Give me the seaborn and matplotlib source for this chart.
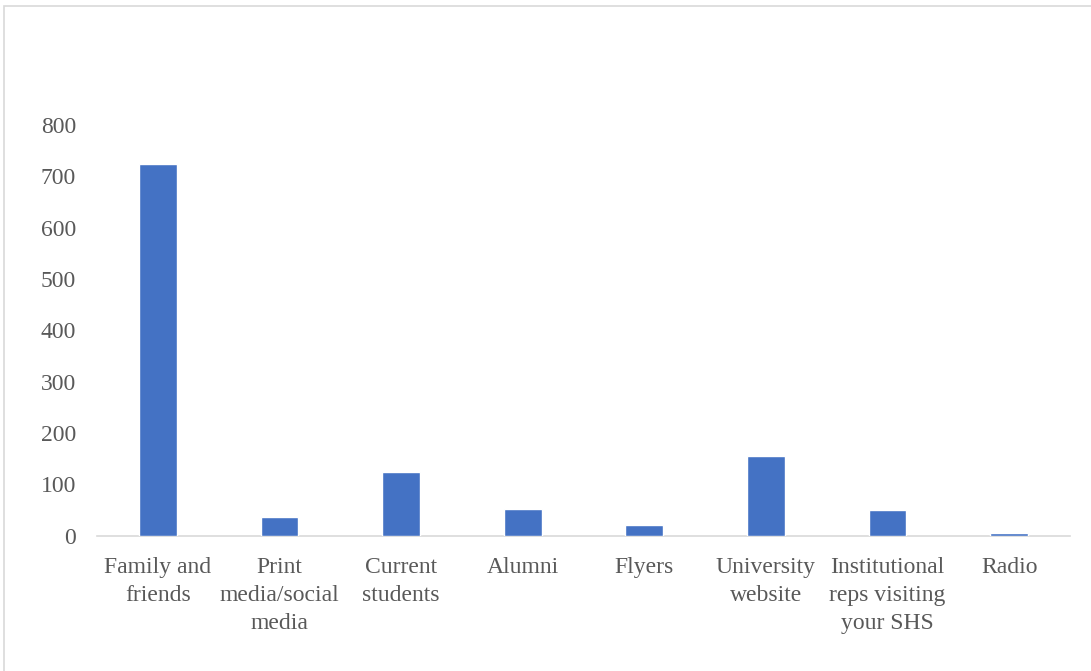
import matplotlib
matplotlib.use("Agg")
import pandas as pd
import numpy as np
import matplotlib.pyplot as plt
import seaborn as sns
from matplotlib.patches import Rectangle

# data
categories = ["Family and\nfriends", "Print\nmedia/social\nmedia", "Current\nstudents",
              "Alumni", "Flyers", "University\nwebsite",
              "Institutional\nreps visiting\nyour SHS", "Radio"]
counts = [724, 37, 124, 52, 21, 155, 50, 5]
y_ticks = [0, 100, 200, 300, 400, 500, 600, 700, 800]

df = pd.DataFrame({"source": categories, "count": counts})

sns.set_style("white")
plt.rcParams['font.family'] = ['Liberation Serif', 'DejaVu Serif']

fig = plt.figure(figsize=(10.91, 6.71), dpi=100)
ax = fig.add_axes([0.0889, 0.2016, 0.8918, 0.6121])

sns.barplot(data=df, x="source", y="count", color="#4472C4", width=0.31,
            saturation=1, ax=ax, zorder=3)

ax.set_ylim(0, 800)
ax.set_xlim(-0.5, len(categories) - 0.5)
ax.set_yticks(y_ticks)
ax.set_xlabel("")
ax.set_ylabel("")

for s in ["top", "right", "left"]:
    ax.spines[s].set_visible(False)
ax.spines["bottom"].set_color("#D9D9D9")
ax.spines["bottom"].set_linewidth(1.2)
ax.spines["bottom"].set_zorder(1)

ax.tick_params(axis="y", length=0, pad=15, labelsize=17, labelcolor="#595959")
ax.tick_params(axis="x", length=0, pad=15, labelsize=17, labelcolor="#595959")
for lbl in ax.get_xticklabels():
    lbl.set_linespacing(1.45)
    lbl.set_multialignment("center")

# chart frame (only top and left edges show in the reference)
fig.patches.append(Rectangle((3.5 / 1091, -0.05), 1.2, 1 - 6.5 / 671 + 0.05,
                             transform=fig.transFigure, fill=False,
                             edgecolor="#D9D9D9", linewidth=1.2))

fig.savefig("out.png", dpi=100)
